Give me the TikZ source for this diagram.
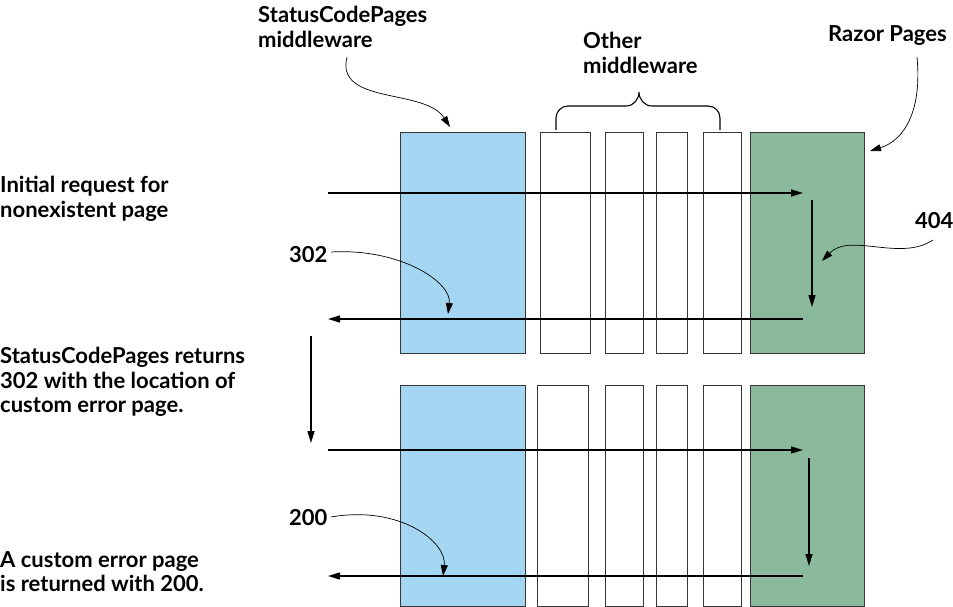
\documentclass[tikz,border=0pt]{standalone}
\usepackage{fontspec}
\setmainfont{Lato}
\usetikzlibrary{arrows.meta}
\definecolor{mwblue}{RGB}{165,214,241}
\definecolor{mwgreen}{RGB}{138,186,155}
\definecolor{boxline}{RGB}{55,55,55}
\begin{document}
\begin{tikzpicture}[x=1pt,y=-1pt,
  box/.style={draw=boxline,line width=1.3pt,anchor=north west,inner sep=0pt,minimum height=221pt},
  bluebox/.style={box,fill=mwblue,minimum width=125pt},
  greenbox/.style={box,fill=mwgreen,minimum width=114pt},
  whitebox/.style={box,fill=white},
  lbl/.style={font=\fontsize{22}{24.5}\selectfont\bfseries,anchor=north west,inner sep=0pt,align=left},
  flow/.style={line width=1.3pt,-{Triangle[length=12pt,width=7pt]}},
  plain/.style={line width=1.3pt},
  callout/.style={line width=0.7pt,-{Triangle[length=11pt,width=7pt]}}]
\useasboundingbox (0,0) rectangle (953,607);
% top row
\node[bluebox] (b1) at (400,132) {};
\node[whitebox,minimum width=50pt] (w11) at (540,132) {};
\node[whitebox,minimum width=38pt] (w12) at (605,132) {};
\node[whitebox,minimum width=31pt] (w13) at (656,132) {};
\node[whitebox,minimum width=38pt] (w14) at (703,132) {};
\node[greenbox] (g1) at (750,132) {};
% bottom row
\node[bluebox] (b2) at (400,385) {};
\node[whitebox,minimum width=51pt] (w21) at (537,385) {};
\node[whitebox,minimum width=38pt] (w22) at (605,385) {};
\node[whitebox,minimum width=31pt] (w23) at (656,385) {};
\node[whitebox,minimum width=38pt] (w24) at (703,385) {};
\node[greenbox] (g2) at (750,385) {};
% labels
\node[lbl] (lsc) at (258,6) {StatusCodePages\\middleware};
\node[lbl] (lother) at (583,32) {Other\\middleware};
\node[lbl] (lrazor) at (828,25) {Razor Pages};
\node[lbl] (linit) at (0,176) {Initial request for\\nonexistent page};
\node[lbl] (l404) at (915,212) {404};
\node[lbl] (l302) at (289,246) {302};
\node[lbl] (lret) at (0,347) {StatusCodePages returns\\302 with the location of\\custom error page.};
\node[lbl] (l200) at (289,509) {200};
\node[lbl] (lcust) at (0,551) {A custom error page\\is returned with 200.};
% coordinates of flow arrows
\coordinate (r1s) at (328,193); \coordinate (r1e) at (803,193);
\coordinate (d1s) at (812,200); \coordinate (d1e) at (812,307);
\coordinate (t1s) at (803,319); \coordinate (t1e) at (328,319);
\coordinate (vs) at (311,336); \coordinate (ve) at (311,443);
\coordinate (r2s) at (328,450); \coordinate (r2e) at (803,450);
\coordinate (d2s) at (809,458); \coordinate (d2e) at (809,566);
\coordinate (t2s) at (803,576); \coordinate (t2e) at (328,576);
\draw[flow] (r1s) -- (r1e);
\draw[flow] (d1s) -- (d1e);
\draw[flow] (t1s) -- (t1e);
\draw[flow] (vs) -- (ve);
\draw[flow] (r2s) -- (r2e);
\draw[flow] (d2s) -- (d2e);
\draw[flow] (t2s) -- (t2e);
% brace
\coordinate (brl) at (556,130); \coordinate (brr) at (720,130); \coordinate (brt) at (639,92);
\draw[line width=1.1pt] (brl) -- (556,118) to[out=90,in=180] (568,106) -- (626,106) to[out=0,in=-90] (brt)
  to[out=-90,in=180] (652,106) -- (708,106) to[out=0,in=90] (720,118) -- (brr);
% callouts
\coordinate (c1s) at (347,57); \coordinate (c1e) at (450,127);
\draw[callout] (c1s) .. controls (335,105) and (425,88) .. (c1e);
\coordinate (c2s) at (917,57); \coordinate (c2e) at (870,151);
\draw[callout] (c2s) .. controls (922,110) and (905,140) .. (c2e);
\coordinate (c3s) at (933,240); \coordinate (c3e) at (822,261);
\draw[callout] (c3s) .. controls (900,262) and (850,232) .. (c3e);
\coordinate (c4s) at (331,252); \coordinate (c4e) at (448,314);
\draw[callout] (c4s) .. controls (400,248) and (452,282) .. (c4e);
\coordinate (c5s) at (331,517); \coordinate (c5e) at (443,576);
\draw[callout] (c5s) .. controls (400,505) and (447,542) .. (c5e);
\end{tikzpicture}
\end{document}
